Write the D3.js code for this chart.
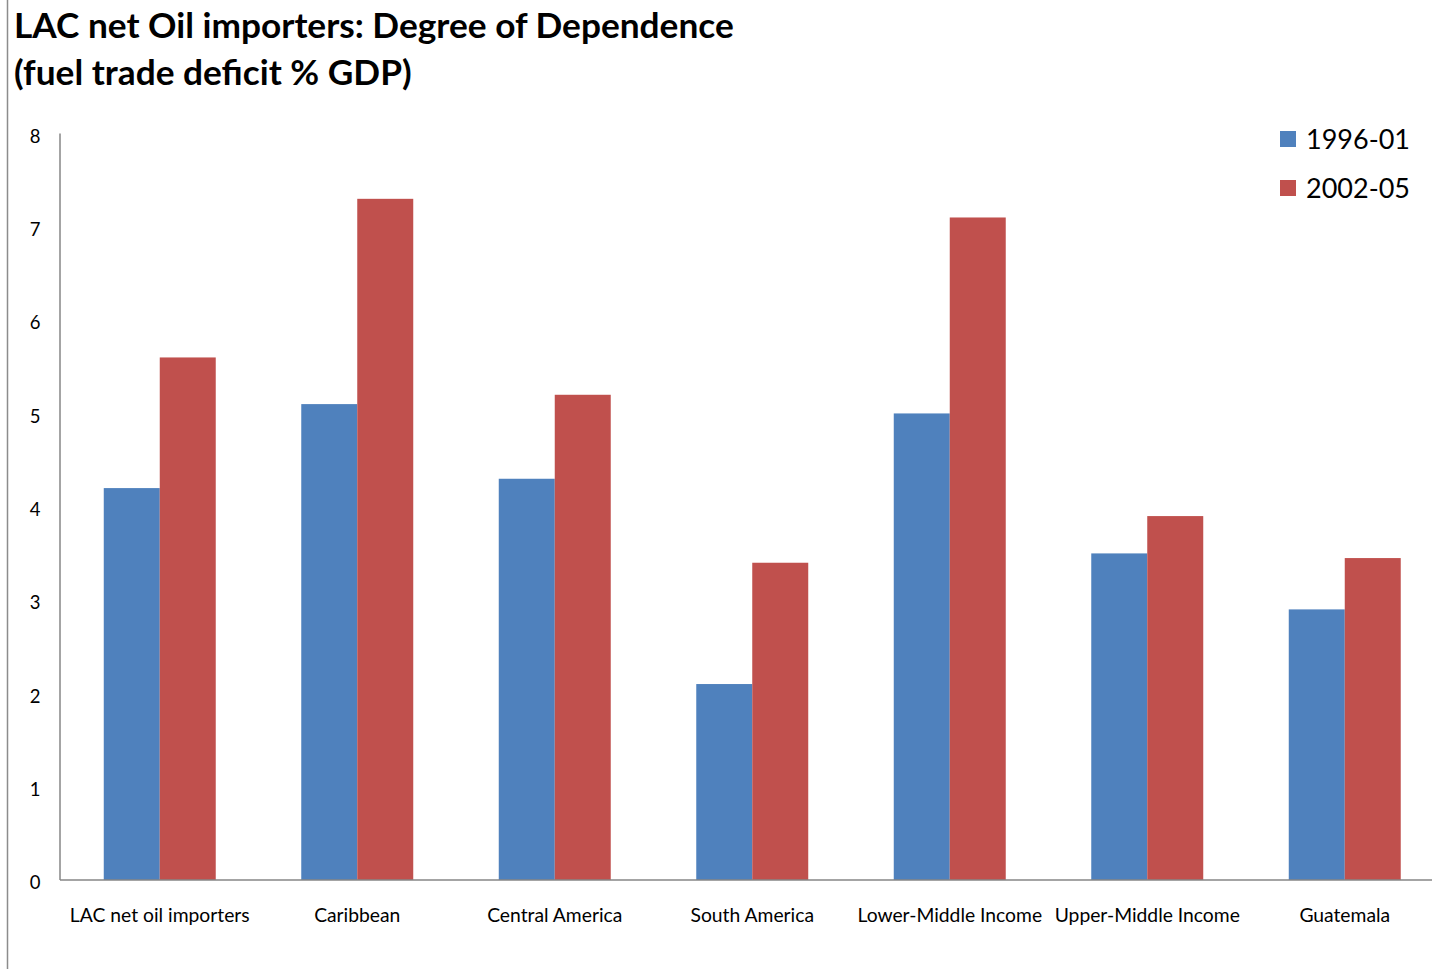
<!DOCTYPE html>
<html>
<head>
<meta charset="utf-8">
<script src="https://cdn.jsdelivr.net/npm/d3@7"></script>
<style>
  html, body { margin: 0; padding: 0; background: #fff; }
  svg { display: block; font-family: Lato, "Open Sans", sans-serif; }
</style>
</head>
<body>
<svg id="chart" width="1432" height="969"></svg>
<script>
// Fuel trade deficit as % of GDP, two periods
const categories = ["LAC net oil importers", "Caribbean", "Central America", "South America",
                    "Lower-Middle Income", "Upper-Middle Income", "Guatemala"];
const seriesNames = ["1996-01", "2002-05"];
const values1996 = [4.2, 5.1, 4.3, 2.1, 5.0, 3.5, 2.9];
const values2002 = [5.6, 7.3, 5.2, 3.4, 7.1, 3.9, 3.45];
const yTicks = [0, 1, 2, 3, 4, 5, 6, 7, 8];
const colors = ["#4f81bd", "#c0504d"];
const titleLines = ["LAC net Oil importers: Degree of Dependence", "(fuel trade deficit % GDP)"];

const svg = d3.select("#chart");

// Outer frame edge on the left
svg.append("line")
  .attr("x1", 7.5).attr("x2", 7.5).attr("y1", 0).attr("y2", 969)
  .attr("stroke", "#8c8c8c").attr("stroke-width", 1.5);

// Title
const title = svg.append("g");
titleLines.forEach((t, i) => {
  title.append("text")
    .attr("x", 14).attr("y", 38 + i * 47)
    .attr("font-weight", "bold").attr("font-size", 31)
    .attr("fill", "#000")
    .text(t);
});
// fit first line to its width
const t0 = title.select("text").node();
const w0 = t0.getComputedTextLength();
const fs = 31 * 720 / w0;
title.selectAll("text").attr("font-size", fs);

const x0 = 61, x1 = 1443.5, yTop = 133.5, yBase = 880;

const x = d3.scaleBand().domain(categories).range([x0, x1])
  .paddingInner(0.433).paddingOuter(0.2165);
const xs = d3.scaleBand().domain(seriesNames).range([0, x.bandwidth()]);
const y = d3.scaleLinear().domain([0, 8]).range([yBase, yTop]);

// Bars
const data = categories.map((c, i) => ({ c, v: [values1996[i], values2002[i]] }));
const groups = svg.append("g").selectAll("g").data(data).join("g")
  .attr("transform", d => `translate(${x(d.c)},0)`);
groups.selectAll("rect")
  .data(d => d.v.map((v, j) => ({ v, s: seriesNames[j], j })))
  .join("rect")
  .attr("x", d => xs(d.s))
  .attr("y", d => y(d.v))
  .attr("width", xs.bandwidth())
  .attr("height", d => yBase - y(d.v))
  .attr("fill", d => colors[d.j]);

// Y axis
const yAxis = d3.axisLeft(y).tickValues(yTicks).tickSize(0).tickPadding(20).tickFormat(d3.format("d"));
const gy = svg.append("g").attr("transform", `translate(${x0 - 1},0)`).call(yAxis);
gy.select(".domain").attr("stroke", "#868686").attr("stroke-width", 1.5).attr("d", `M0,${yTop}V${yBase}`);
gy.selectAll("text").attr("font-size", 18.5).attr("fill", "#000")
  .attr("font-family", "Lato, 'Open Sans', sans-serif").attr("text-anchor", "middle")
  .attr("x", -25).attr("dy", "0.47em");

// X axis
const xAxis = d3.axisBottom(x).tickSize(0).tickPadding(28);
const gx = svg.append("g").attr("transform", `translate(0,${yBase})`).call(xAxis);
gx.select(".domain").attr("stroke", "#868686").attr("stroke-width", 1.5).attr("d", `M${x0 - 1},0H1432`);
gx.selectAll("text").attr("font-size", 19.3).attr("fill", "#000")
  .attr("font-family", "Lato, 'Open Sans', sans-serif");

// Legend
const legend = svg.append("g").selectAll("g").data(seriesNames).join("g")
  .attr("transform", (d, i) => `translate(1280,${131 + i * 49})`);
legend.append("rect").attr("width", 16).attr("height", 16).attr("fill", (d, i) => colors[i]);
legend.append("text").attr("x", 26).attr("y", 18).attr("font-size", 27).attr("fill", "#000").text(d => d);
</script>
</body>
</html>
